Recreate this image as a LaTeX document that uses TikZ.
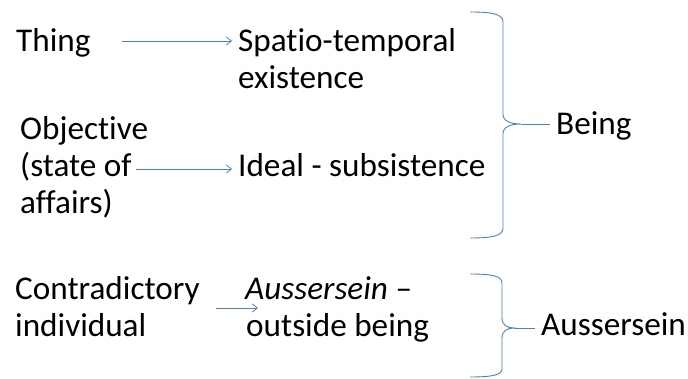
\documentclass[tikz,border=0pt]{standalone}
\usepackage{fontspec}
\setmainfont{Carlito}[Ligatures=NoCommon]
\usetikzlibrary{arrows.meta}
\definecolor{lineblue}{RGB}{79,129,189}
\begin{document}
\begin{tikzpicture}[x=1pt,y=-1pt,
  txt/.style={anchor=base west, inner sep=0pt, font=\fontsize{33.2}{38}\selectfont, text=black},
  arr/.style={draw=lineblue, line width=0.8pt, -{Straight Barb[length=5pt,width=8pt]}},
  bracepath/.style={draw=lineblue, line width=0.9pt}]
\useasboundingbox (0,0) rectangle (688,379);
% left column
\node[txt] (thing) at (16,52) {Thing};
\node[txt] (obj1) at (20,140) {Objective};
\node[txt] (obj2) at (20,177) {(state of};
\node[txt] (obj3) at (20,214) {affairs)};
\node[txt] (contra1) at (15,300) {Contradictory};
\node[txt] (contra2) at (15,337) {individual};
% middle column
\node[txt] (spatio) at (238,52) {Spatio-temporal};
\node[txt] (exist) at (238,89) {existence};
\node[txt] (ideal) at (238,177) {Ideal - subsistence};
\node[txt] (auss1) at (245,300) {\itshape Aussersein\upshape{} –};
\node[txt] (auss2) at (246,337) {outside being};
% right column
\node[txt] (being) at (556,135) {Being};
\node[txt] (aussR) at (541,335) {Aussersein};
% arrows
\draw[arr] ([xshift=31pt,yshift=11pt]thing.base east) -- ([xshift=-6pt,yshift=11pt]spatio.base west);
\draw[arr] ([xshift=4pt,yshift=8pt]obj2.base east) -- ([xshift=-6pt,yshift=8pt]ideal.base west);
\draw[arr] ([xshift=16pt,yshift=-8pt]contra1.base east) -- ([xshift=13pt,yshift=-8pt]auss1.base west);
% brace 1
\coordinate (b1tip) at (521,124);
\draw[bracepath] (470,12) .. controls (492,12) and (503,14) .. (503,22) -- (503,114)
  .. controls (503,121) and (510,124) .. (b1tip)
  .. controls (510,124) and (503,127) .. (503,134) -- (503,228)
  .. controls (503,236) and (492,238) .. (470,238);
\draw[bracepath] (b1tip) -- ([xshift=-6pt]being.west |- b1tip);
% brace 2
\coordinate (b2tip) at (514,328);
\draw[bracepath] (470,274) .. controls (492,274) and (502,276) .. (502,283) -- (502,318)
  .. controls (502,325) and (507,328) .. (b2tip)
  .. controls (507,328) and (502,331) .. (502,338) -- (502,369)
  .. controls (502,375) and (492,377) .. (470,377);
\draw[bracepath] (b2tip) -- ([xshift=-6pt]aussR.west |- b2tip);
\end{tikzpicture}
\end{document}
